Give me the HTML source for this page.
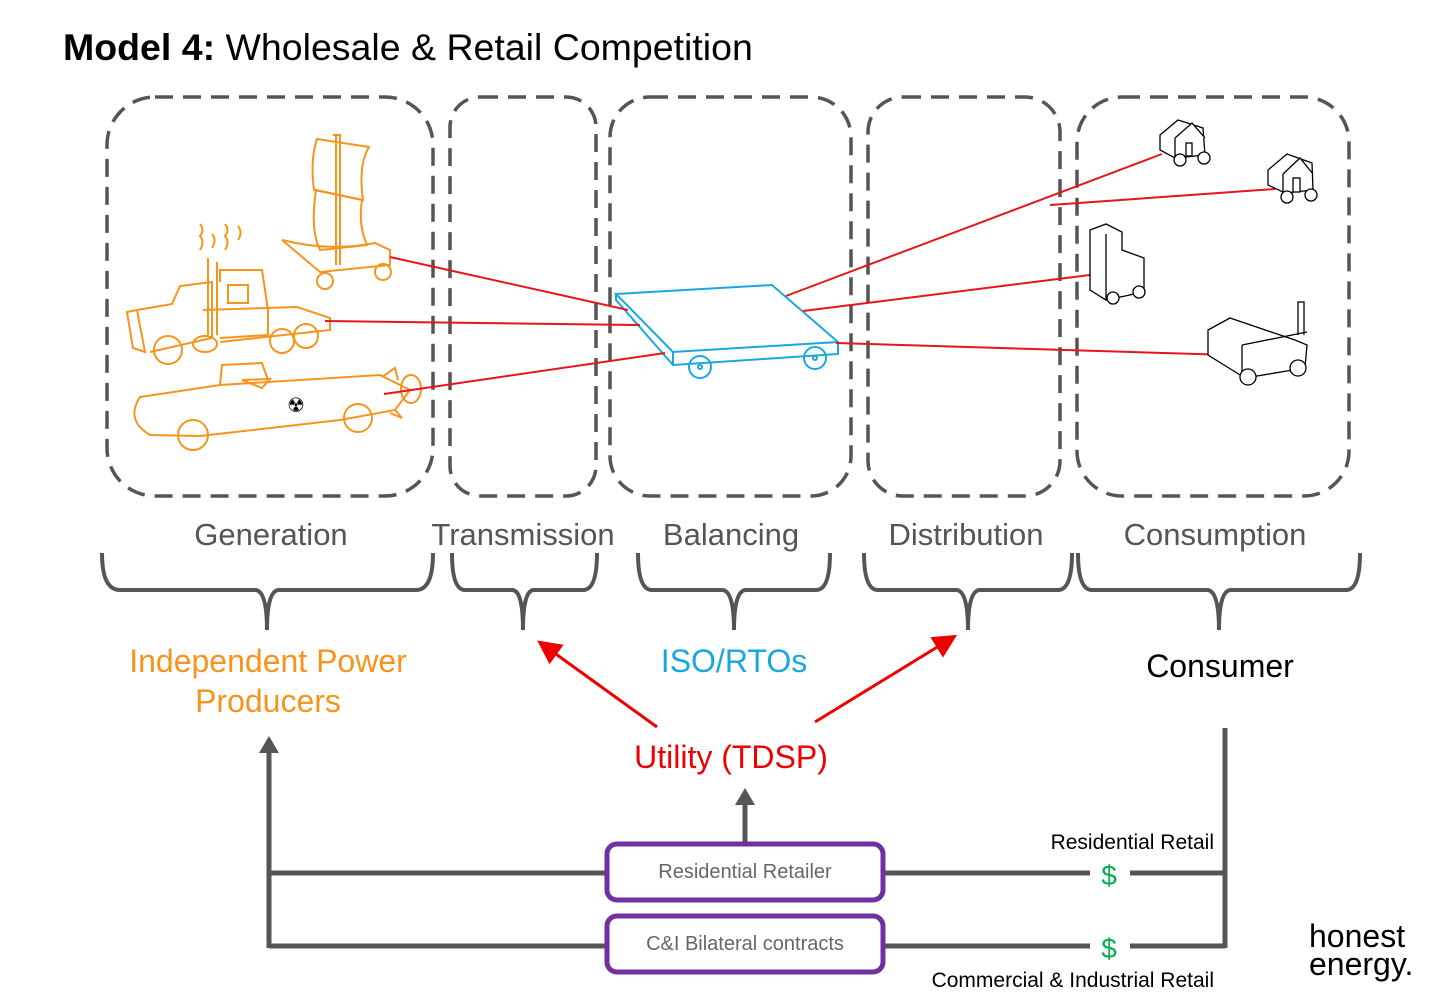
<!DOCTYPE html>
<html><head><meta charset="utf-8"><style>
html,body{margin:0;padding:0;background:#fff}
svg{display:block}
text{font-family:"Liberation Sans",Arial,sans-serif}
</style></head><body>
<svg width="1435" height="1006" viewBox="0 0 1435 1006" xmlns="http://www.w3.org/2000/svg">
<defs>
<marker id="ag" markerWidth="4" markerHeight="4" refX="1" refY="2" orient="auto" markerUnits="strokeWidth"><path d="M0,0 L3.4,2 L0,4 z" fill="#555"/></marker>
<marker id="ar" markerWidth="8" markerHeight="8" refX="6" refY="4" orient="auto" markerUnits="strokeWidth"><path d="M0,0 L8,4 L0,8 z" fill="#e00"/></marker>
</defs>
<text x="63" y="60" font-size="37.5" fill="#000"><tspan font-weight="bold">Model 4:</tspan> Wholesale &amp; Retail Competition</text>

<g fill="none" stroke="#555" stroke-width="3.5" stroke-dasharray="18 10">
<rect x="107" y="97" width="326" height="399" rx="48"/>
<rect x="450" y="97" width="146" height="399" rx="30"/>
<rect x="610" y="97" width="241" height="399" rx="40"/>
<rect x="868" y="97" width="192" height="399" rx="35"/>
<rect x="1077" y="97" width="272" height="399" rx="45"/>
</g>

<g font-size="31" fill="#555" text-anchor="middle">
<text x="271" y="545">Generation</text>
<text x="523" y="545">Transmission</text>
<text x="731" y="545">Balancing</text>
<text x="966" y="545">Distribution</text>
<text x="1215" y="545">Consumption</text>
</g>

<g fill="none" stroke="#555" stroke-width="4">
<path d="M102,553 Q102,590 120,590 L255,590 Q267,590 267,630 Q267,590 279,590 L416,590 Q433,590 433,553"/>
<path d="M452,553 Q452,590 465,590 L512,590 Q523,590 523,630 Q523,590 534,590 L583,590 Q597,590 597,553"/>
<path d="M638,553 Q638,590 652,590 L722,590 Q734,590 734,630 Q734,590 746,590 L816,590 Q830,590 830,553"/>
<path d="M864,553 Q864,590 878,590 L956,590 Q968,590 968,630 Q968,590 980,590 L1058,590 Q1072,590 1072,553"/>
<path d="M1078,553 Q1078,590 1092,590 L1207,590 Q1219,590 1219,630 Q1219,590 1231,590 L1346,590 Q1360,590 1360,553"/>
</g>

<!-- orange drawings -->
<g fill="none" stroke="#f7941d" stroke-width="2">
<path d="M282,240 Q300,255 320,272 L390,265 L390,250 L375,243 Q330,252 282,240 z"/>
<path d="M336,265 L336,135 M333,135 L340,135 L340,265"/>
<path d="M317,139 L369,147 Q358,165 363,200 L314,190 Q310,160 317,139 z"/>
<path d="M316,190 L362,200 Q358,225 367,245 L320,250 Q310,230 316,190 z"/>
<circle cx="325" cy="281" r="8"/><circle cx="383" cy="272" r="8"/>
<path d="M127,312 L137,310 L145,352 L133,348 z"/>
<path d="M137,310 L172,304 L180,286 L212,282 L212,338 L150,352"/>
<path d="M220,282 L220,270 L262,270 L268,310 L268,335 L220,338"/>
<path d="M203,310 L297,307 L330,318 L330,330 L220,342"/>
<path d="M208,258 L208,335 M217,262 L217,335"/>
<rect x="228" y="285" width="20" height="18"/>
<circle cx="168" cy="350" r="14"/><circle cx="282" cy="341" r="12"/><circle cx="306" cy="336" r="12"/>
<ellipse cx="205" cy="344" rx="12" ry="8"/>
<path d="M200,250 q5,-8 0,-14 q5,-6 0,-12 M225,250 q5,-8 0,-14 q5,-6 0,-12 M212,248 q5,-8 0,-14 M238,240 q5,-8 0,-14"/>
<path d="M140,397 L220,385 L380,375 L410,390 L395,410 L340,420 L200,436 L150,435 Q125,420 140,397 z"/>
<path d="M220,385 L222,365 L262,363 L268,380"/>
<path d="M242,380 L270,379 L262,388 z"/>
<path d="M382,377 L395,368 L398,380 M395,410 L402,418 L390,413"/>
<ellipse cx="411" cy="389" rx="10" ry="14"/>
<circle cx="193" cy="435" r="15"/><circle cx="358" cy="418" r="14"/>
</g>
<text x="296" y="412" font-size="20" fill="#000" text-anchor="middle">☢</text>

<g fill="none" stroke="#1aa7e0" stroke-width="2">
<path d="M616,294 L772,285 L838,342 L673,352 z"/>
<path d="M616,294 L616,300 L673,365 L838,354 L838,342 M673,352 L673,365"/>
<circle cx="700" cy="367" r="11"/><circle cx="700" cy="367" r="2"/>
<circle cx="815" cy="358" r="11"/><circle cx="815" cy="358" r="2"/>
</g>

<g stroke="#e8141c" stroke-width="2">
<line x1="390" y1="257" x2="628" y2="310"/>
<line x1="325" y1="321" x2="640" y2="325"/>
<line x1="384" y1="394" x2="665" y2="353"/>
<line x1="786" y1="296" x2="1162" y2="154"/>
<line x1="1050" y1="205" x2="1275" y2="189"/>
<line x1="803" y1="311" x2="1098" y2="274"/>
<line x1="836" y1="343" x2="1230" y2="355"/>
</g>

<g fill="#fff" stroke="#000" stroke-width="1.3">
<path d="M1160,135 L1178,120 L1203,128 L1205,155 L1175,158 L1160,150 z"/>
<path d="M1175,138 L1192,123 L1205,138 M1175,138 L1175,158"/>
<rect x="1186" y="143" width="6" height="13"/>
<circle cx="1180" cy="160" r="6"/><circle cx="1204" cy="158" r="6"/>
<path d="M1268,170 L1287,154 L1312,163 L1313,190 L1285,193 L1268,185 z"/>
<path d="M1283,174 L1300,158 L1313,174 M1283,174 L1283,193"/>
<rect x="1293" y="178" width="7" height="14"/>
<circle cx="1287" cy="197" r="6"/><circle cx="1311" cy="195" r="6"/>
<path d="M1090,230 L1106,224 L1122,232 L1122,250 L1144,258 L1144,292 L1106,300 L1090,290 z"/>
<path d="M1106,234 L1106,300"/>
<circle cx="1113" cy="298" r="6"/><circle cx="1139" cy="292" r="6"/>
<path d="M1208,330 L1230,318 L1295,340 L1307,345 L1305,368 L1245,378 L1208,355 z"/>
<path d="M1242,345 L1242,378 M1242,345 L1307,332 M1298,335 L1298,302 L1304,302 L1304,335"/>
<circle cx="1248" cy="377" r="8"/><circle cx="1298" cy="368" r="8"/>
</g>

<g font-size="32" text-anchor="middle">
<text x="268" y="672" fill="#f7941d">Independent  Power</text>
<text x="268" y="712" fill="#f7941d">Producers</text>
<text x="734" y="672" fill="#1aa7e0">ISO/RTOs</text>
<text x="1220" y="677" fill="#000">Consumer</text>
<text x="731" y="768" fill="#e00">Utility (TDSP)</text>
</g>

<g stroke="#e00" stroke-width="3">
<line x1="657" y1="727" x2="542" y2="644" marker-end="url(#ar)"/>
<line x1="815" y1="722" x2="952" y2="638" marker-end="url(#ar)"/>
</g>

<g stroke="#555" stroke-width="5" fill="none">
<line x1="269" y1="948" x2="269" y2="748" marker-end="url(#ag)"/>
<line x1="745" y1="843" x2="745" y2="800" marker-end="url(#ag)"/>
<path d="M269,873 L607,873 M883,873 L1090,873 M1130,873 L1225,873"/>
<path d="M269,946 L607,946 M883,946 L1090,946 M1130,946 L1225,946"/>
<line x1="1225" y1="728" x2="1225" y2="948"/>
</g>

<rect x="607" y="844" width="276" height="56" rx="10" fill="#fff" stroke="#7030a0" stroke-width="5"/>
<rect x="607" y="916" width="276" height="56" rx="10" fill="#fff" stroke="#7030a0" stroke-width="5"/>
<g font-size="20" fill="#666" text-anchor="middle">
<text x="745" y="878">Residential Retailer</text>
<text x="745" y="950">C&amp;I Bilateral contracts</text>
</g>
<g font-size="28" fill="#00b050" text-anchor="middle">
<text x="1109" y="885">$</text>
<text x="1109" y="958">$</text>
</g>
<g font-size="21" fill="#000" text-anchor="end">
<text x="1214" y="849">Residential Retail</text>
<text x="1214" y="987">Commercial &amp; Industrial Retail</text>
</g>
<g font-size="32" fill="#000">
<text x="1309" y="947">honest</text>
<text x="1309" y="975">energy.</text>
</g>
</svg>
</body></html>
